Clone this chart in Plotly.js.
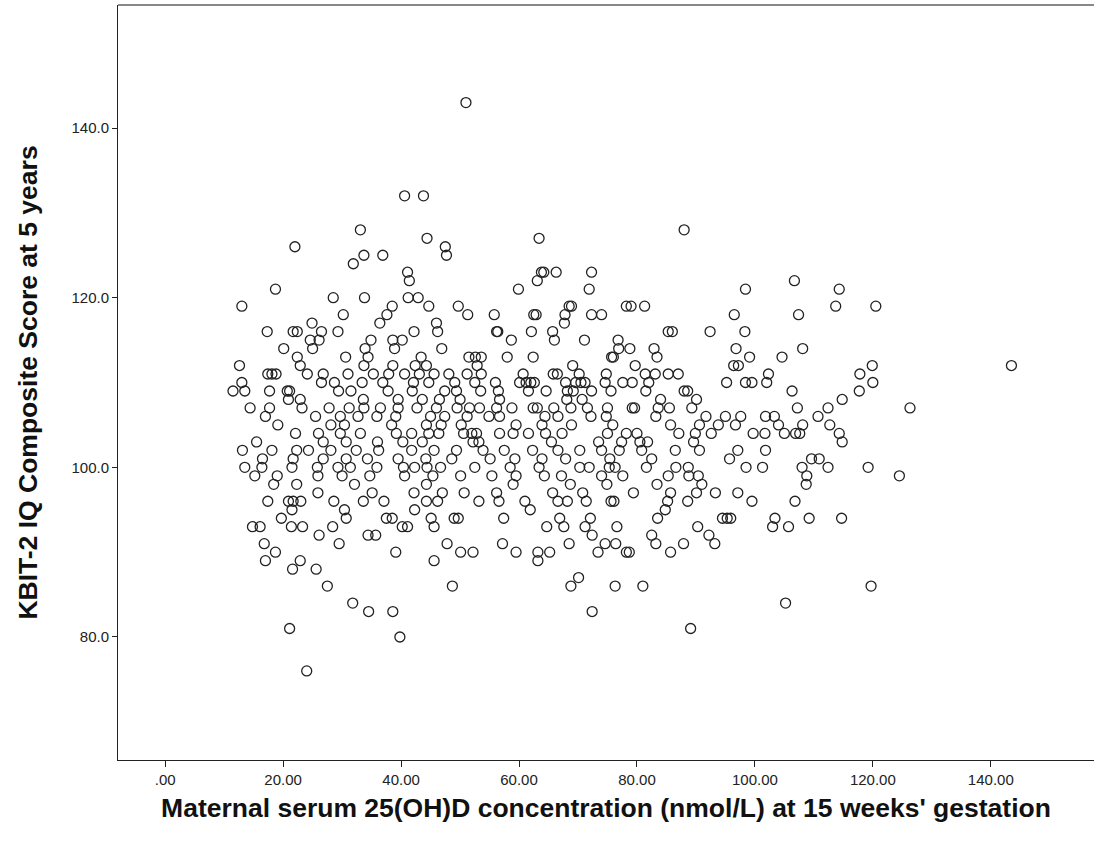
<!DOCTYPE html>
<html>
<head>
<meta charset="utf-8">
<script src="https://cdn.plot.ly/plotly-3.0.1.min.js"></script>
<style>
  html, body { margin: 0; padding: 0; background: #fff; }
  #chart { width: 1094px; height: 843px; }
</style>
</head>
<body>
<div id="chart"></div>
<script>
// IQ score levels (y) and the vitamin D values (x) of the points on each level
const iqLevels = [143,132,128,127,126,125,124,123,122,121,120,119,118,117,116,115,114,113,112,111,110,109,108,107,106,105,104,103,102,101,100,99,98,97,96,95,94,93,92,91,90,89,88,87,86,84,83,81,80,76];
const vitDByLevel = [
  [51.0],
  [40.6, 43.8],
  [33.1, 88.0],
  [44.4, 63.4],
  [22.0, 47.5],
  [33.7, 36.9, 47.7],
  [31.9],
  [41.1, 63.8, 64.2, 66.3, 72.3],
  [41.4, 63.1, 106.7],
  [18.7, 59.9, 71.9, 98.4, 114.3],
  [28.5, 33.8, 41.2, 42.9],
  [13.0, 38.5, 44.7, 49.7, 68.5, 68.9, 78.2, 79.0, 81.3, 113.7, 120.5],
  [30.2, 37.6, 51.3, 55.8, 62.5, 62.9, 67.8, 72.3, 74.0, 96.5, 107.4],
  [24.9, 36.4, 46.0, 67.7],
  [17.3, 21.7, 22.4, 26.5, 29.3, 42.2, 46.2, 56.2, 56.4, 62.1, 65.7, 85.3, 86.0, 92.4, 98.3],
  [24.6, 26.1, 34.9, 38.6, 40.2, 58.7, 66.0, 71.1, 76.8],
  [20.1, 25.0, 33.9, 38.9, 46.9, 76.9, 78.8, 82.9, 96.8, 108.1],
  [22.4, 30.6, 34.4, 43.4, 51.5, 52.6, 53.6, 58.0, 62.4, 75.7, 76.0, 83.4, 99.1, 104.6],
  [12.6, 22.9, 33.7, 38.6, 42.4, 44.3, 52.9, 69.1, 79.7, 96.4, 97.2, 119.9, 143.5],
  [17.4, 18.1, 18.8, 24.1, 26.8, 31.0, 35.3, 37.9, 40.6, 43.1, 45.6, 48.1, 51.2, 53.6, 60.7, 65.8, 66.5, 70.2, 74.8, 81.4, 83.1, 85.3, 87.0, 102.3, 117.8],
  [13.0, 26.5, 28.7, 33.4, 36.9, 42.1, 44.7, 49.1, 52.5, 56.0, 60.1, 61.2, 62.0, 62.6, 67.9, 69.6, 70.5, 71.2, 74.6, 77.6, 79.2, 82.0, 95.2, 98.4, 99.5, 102.0, 120.0],
  [11.5, 13.5, 17.7, 20.7, 21.1, 29.4, 31.5, 37.8, 41.9, 47.4, 49.4, 53.5, 56.5, 61.6, 64.6, 68.2, 69.2, 72.3, 75.6, 81.5, 88.0, 88.6, 106.3, 117.7],
  [20.9, 22.9, 33.6, 39.5, 43.6, 46.5, 50.0, 56.7, 68.1, 70.7, 84.0, 90.1, 114.8],
  [14.4, 17.7, 23.2, 27.8, 31.2, 33.7, 36.5, 39.5, 42.7, 46.0, 49.5, 51.6, 53.3, 56.2, 58.8, 62.4, 63.1, 65.9, 68.8, 71.6, 75.0, 79.2, 79.6, 83.6, 85.5, 89.3, 107.2, 112.4, 126.3],
  [17.0, 25.5, 29.7, 32.7, 35.9, 39.1, 45.0, 47.4, 51.2, 54.9, 56.7, 64.4, 66.6, 72.2, 74.8, 83.2, 91.7, 95.0, 97.6, 101.8, 103.3, 110.7],
  [19.1, 28.1, 30.4, 38.4, 44.3, 46.8, 50.2, 59.5, 63.9, 68.9, 75.9, 85.7, 90.6, 93.8, 96.7, 104.0, 108.1, 112.7],
  [22.1, 26.0, 29.7, 33.1, 39.2, 41.8, 44.7, 46.4, 50.6, 52.0, 52.8, 56.7, 59.0, 61.6, 64.5, 67.3, 75.0, 78.2, 80.0, 87.1, 89.9, 92.6, 99.7, 101.7, 105.0, 106.9, 107.6, 114.3],
  [15.5, 26.8, 30.7, 36.0, 40.3, 43.6, 52.2, 53.2, 65.5, 73.5, 77.4, 80.5, 81.8, 89.6, 114.8],
  [13.1, 18.1, 22.3, 24.3, 28.1, 32.4, 36.2, 41.8, 45.6, 49.4, 53.9, 57.5, 62.3, 66.6, 70.3, 74.0, 77.0, 80.8, 86.5, 90.6, 97.1, 101.8],
  [16.5, 21.7, 26.8, 30.7, 34.3, 39.5, 44.2, 48.6, 55.1, 59.3, 63.9, 67.9, 75.4, 82.5, 95.7, 109.6, 110.9],
  [13.5, 16.4, 21.5, 25.8, 29.3, 31.4, 35.9, 40.4, 42.3, 44.4, 46.7, 52.5, 58.5, 63.4, 70.3, 71.9, 75.3, 76.3, 81.6, 86.6, 88.7, 98.5, 101.3, 108.0, 112.4, 119.2],
  [15.2, 19.0, 25.9, 30.0, 34.7, 40.6, 45.4, 50.1, 55.4, 59.5, 64.3, 67.2, 74.0, 77.6, 85.3, 88.8, 90.4, 108.8, 124.5],
  [18.4, 22.3, 32.1, 44.3, 59.0, 68.7, 74.9, 83.4, 91.0, 108.7],
  [25.9, 35.1, 42.2, 47.0, 50.7, 56.2, 65.7, 70.8, 79.4, 85.7, 90.1, 93.3, 97.1],
  [17.4, 20.9, 21.7, 23.0, 28.6, 33.6, 37.1, 44.3, 46.2, 53.2, 56.6, 61.0, 66.6, 68.2, 71.4, 75.6, 76.1, 85.2, 88.6, 99.5, 106.8],
  [21.5, 30.4, 42.3, 61.9, 84.8],
  [19.7, 30.7, 37.5, 38.5, 45.1, 49.0, 49.7, 57.4, 66.9, 72.1, 83.5, 94.5, 95.3, 95.9, 103.4, 109.2, 114.7],
  [14.8, 16.1, 21.4, 23.3, 28.4, 40.2, 41.1, 45.6, 64.7, 67.6, 71.2, 76.6, 90.3, 103.0, 105.7],
  [26.1, 34.4, 35.7, 72.4, 82.5, 92.2],
  [16.8, 29.5, 47.8, 57.2, 68.5, 74.6, 76.4, 83.2, 87.9, 93.2],
  [18.7, 39.1, 50.1, 52.2, 59.5, 63.2, 65.2, 73.4, 78.2, 78.7, 85.7],
  [17.0, 22.9, 45.6, 63.2],
  [21.6, 25.6],
  [70.1],
  [27.5, 48.7, 68.8, 76.3, 81.0, 119.7],
  [31.8, 105.2],
  [34.5, 38.6, 72.4],
  [21.1, 89.1],
  [39.8],
  [24.0]
];
const xTickVals = [0, 20, 40, 60, 80, 100, 120, 140];
const xTickText = ['.00', '20.00', '40.00', '60.00', '80.00', '100.00', '120.00', '140.00'];
const yTickVals = [80, 100, 120, 140];
const yTickText = ['80.0', '100.0', '120.0', '140.0'];

const xs = [], ys = [];
iqLevels.forEach((lvl, i) => {
  vitDByLevel[i].forEach(v => { xs.push(v); ys.push(lvl); });
});

const trace = {
  type: 'scatter', mode: 'markers', x: xs, y: ys,
  marker: { symbol: 'circle-open', size: 10, color: '#222', line: { width: 1.3, color: '#222' } },
  hoverinfo: 'x+y'
};

const titleFont = { size: 26.5, color: '#111', family: 'Liberation Sans, Arial, sans-serif', weight: 'bold' };

const layout = {
  width: 1094, height: 843,
  margin: { l: 118, r: 0, t: 5, b: 83 },
  paper_bgcolor: '#fff', plot_bgcolor: '#fff',
  showlegend: false,
  font: { family: 'Liberation Sans, Arial, sans-serif', color: '#222' },
  xaxis: {
    range: [-8, 157.5], tickvals: xTickVals, ticktext: xTickText,
    showgrid: false, zeroline: false, showline: true, linecolor: '#222', linewidth: 1,
    ticks: 'outside', ticklen: 6, tickcolor: '#222', tickwidth: 1,
    tickfont: { size: 15, color: '#222' },
    title: { text: "Maternal serum 25(OH)D concentration (nmol/L) at 15 weeks' gestation",
             font: titleFont, standoff: 11 }
  },
  yaxis: {
    range: [65.5, 154.5], tickvals: yTickVals, ticktext: yTickText,
    showgrid: false, zeroline: false, showline: true, linecolor: '#222', linewidth: 1,
    ticks: 'outside', ticklen: 5, tickcolor: '#222', tickwidth: 1,
    tickfont: { size: 15, color: '#222' },
    title: { text: 'KBIT-2 IQ Composite Score at 5 years',
             font: titleFont, standoff: 26 }
  },
  shapes: [
    { type: 'line', xref: 'paper', yref: 'paper', x0: 0, x1: 1, y0: 1, y1: 1, line: { color: '#888', width: 2 } }
  ]
};

Plotly.newPlot('chart', [trace], layout, { displayModeBar: false, staticPlot: true });
</script>
</body>
</html>
